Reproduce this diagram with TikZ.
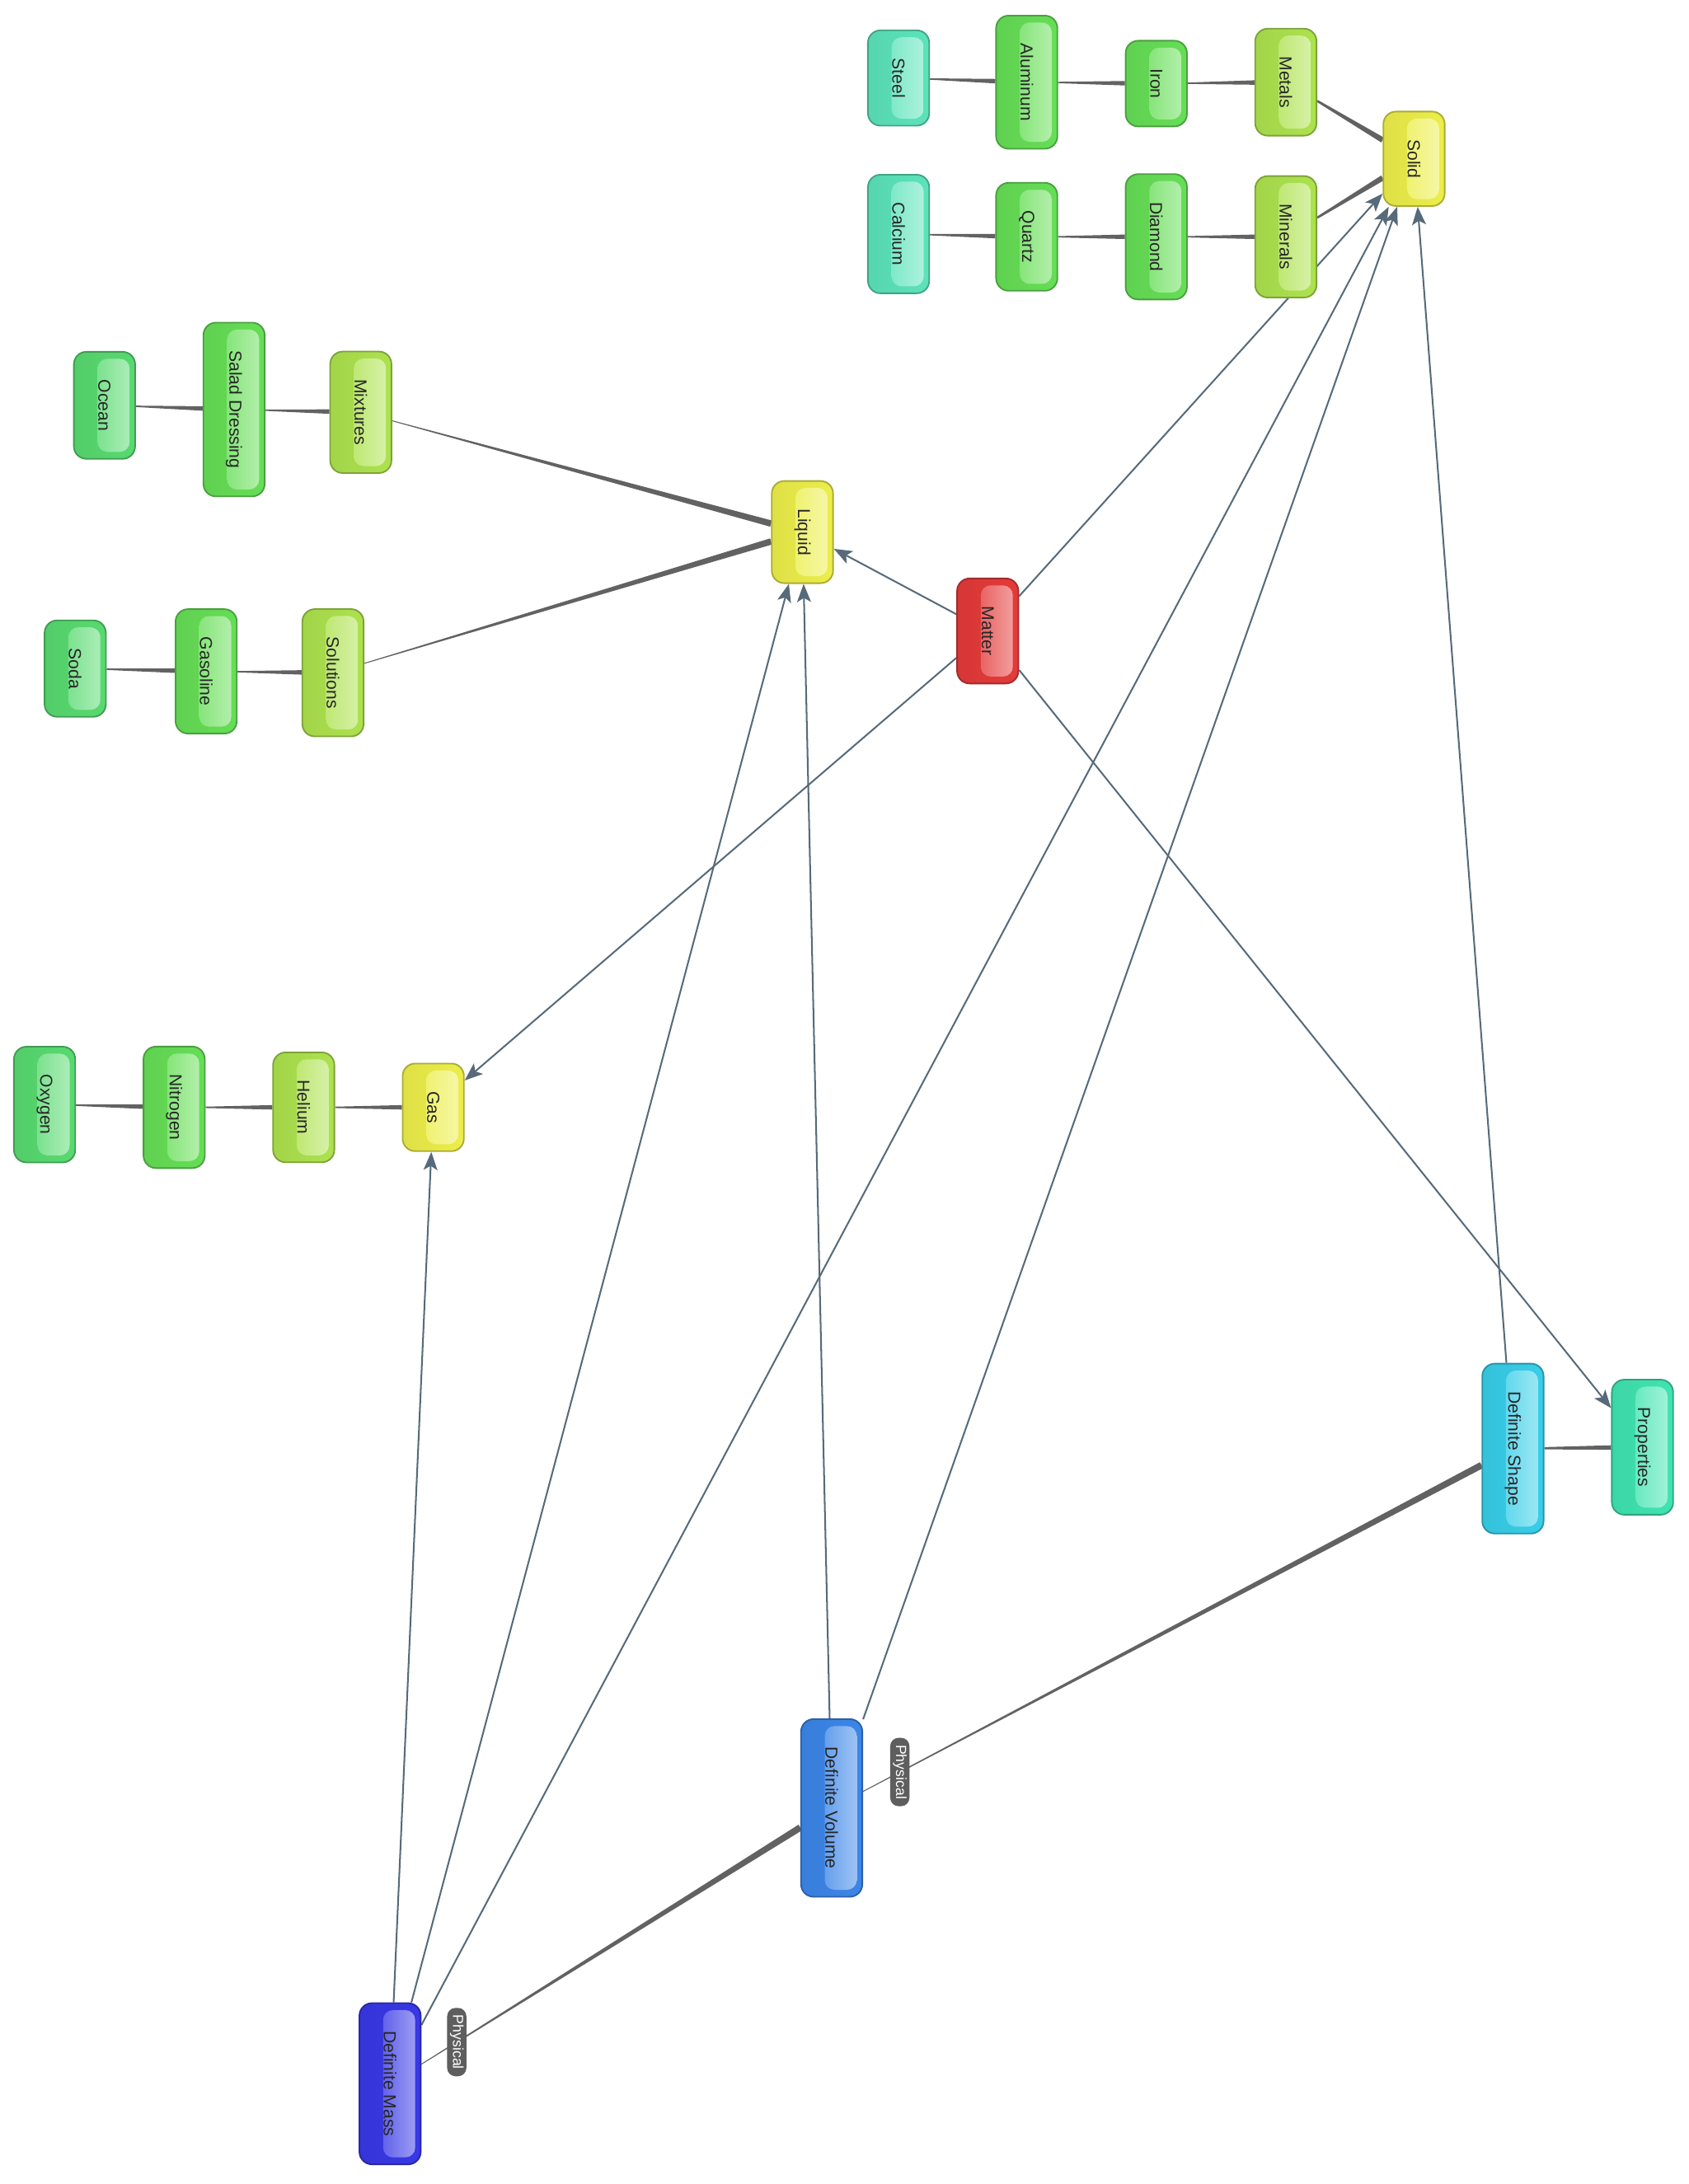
\documentclass[tikz,border=0pt]{standalone}
\usepackage{fontspec}
\setmainfont{Liberation Sans}
\usepackage{graphicx}
\usetikzlibrary{arrows.meta,calc,backgrounds}
\definecolor{ink}{HTML}{262626}
\definecolor{slate}{HTML}{566A7A}
\definecolor{linkgray}{HTML}{626262}
\definecolor{taggray}{HTML}{5E5E5E}
\definecolor{red}{HTML}{E43A3A}
\definecolor{yellow}{HTML}{ECEE4A}
\definecolor{lime}{HTML}{ADE24E}
\definecolor{green}{HTML}{66DE56}
\definecolor{leaf}{HTML}{58DA70}
\definecolor{teal}{HTML}{5CE3BA}
\definecolor{mint}{HTML}{40E4B0}
\definecolor{cyan}{HTML}{38CEE8}
\definecolor{blue}{HTML}{3C86E8}
\definecolor{indigo}{HTML}{3838E6}

\newcommand{\vt}[1]{\rotatebox{-90}{#1}}
% tapered branch: child, parent, half width at child, half width at parent
\newcommand{\branch}[4]{%
  \path (#1) -- (#2) coordinate[pos=0] (bA) coordinate[pos=1] (bB);
  \fill[linkgray] ($(bA)!#3!90:(bB)$) -- ($(bB)!#4!-90:(bA)$)
    -- ($(bB)!#4!90:(bA)$) -- ($(bA)!#3!-90:(bB)$) -- cycle;}

\begin{document}
\begin{tikzpicture}[
  x=1pt, y=-1pt,
  font=\fontsize{12.5}{15}\selectfont,
  box/.style={rounded corners=9pt, minimum width=44pt, inner xsep=0pt,
              inner ysep=20pt, draw=#1!72!black, line width=1.1pt,
              left color=#1!94!black, right color=#1, text=ink,
              path picture={\shade[left color=#1, right color=#1!45!white, rounded corners=7pt]
                ($(path picture bounding box.north)+(-5pt,-5pt)$) rectangle
                ($(path picture bounding box.south east)+(-4pt,5pt)$);}},
  tagbox/.style={fill=taggray, text=white, rounded corners=6pt,
                 inner xsep=2pt, inner ysep=5pt,
                 font=\fontsize{10.5}{12}\selectfont},
  conn/.style={-{Stealth[length=13pt,width=10pt,inset=3pt]}, line width=1.2pt, draw=slate}
]
\useasboundingbox (0,0) rectangle (1212,1568);

% solid branch
\node[box=teal]   (steel)    at (645,56)  {\vt{Steel}};
\node[box=green]  (aluminum) at (737,59)  {\vt{Aluminum}};
\node[box=green]  (iron)     at (830,60)  {\vt{Iron}};
\node[box=lime]   (metals)   at (923,59)  {\vt{Metals}};
\node[box=yellow] (solid)    at (1015,114) {\vt{Solid}};
\node[box=teal]   (calcium)  at (645,168) {\vt{Calcium}};
\node[box=green]  (quartz)   at (737,170) {\vt{Quartz}};
\node[box=green]  (diamond)  at (830,170) {\vt{Diamond}};
\node[box=lime]   (minerals) at (923,170) {\vt{Minerals}};

% liquid branch
\node[box=leaf]   (ocean)    at (75,291)  {\vt{Ocean}};
\node[box=green]  (salad)    at (168,294) {\vt{Salad Dressing}};
\node[box=lime]   (mixtures) at (259,296) {\vt{Mixtures}};
\node[box=yellow] (liquid)   at (576,382) {\vt{Liquid}};
\node[box=leaf]   (soda)     at (54,480)  {\vt{Soda}};
\node[box=green]  (gasoline) at (148,482) {\vt{Gasoline}};
\node[box=lime]   (solutions) at (239,483) {\vt{Solutions}};
\node[box=red]    (matter)   at (709,453) {\vt{Matter}};

% gas branch
\node[box=leaf]   (oxygen)   at (32,793)  {\vt{Oxygen}};
\node[box=green]  (nitrogen) at (125,795) {\vt{Nitrogen}};
\node[box=lime]   (helium)   at (218,795) {\vt{Helium}};
\node[box=yellow] (gas)      at (311,795) {\vt{Gas}};

% properties
\node[box=cyan]   (dshape)   at (1086,1040) {\vt{Definite Shape}};
\node[box=mint]   (props)    at (1179,1039) {\vt{Properties}};
\node[box=blue]   (dvolume)  at (597,1298) {\vt{Definite Volume}};
\node[box=indigo] (dmass)    at (280,1496) {\vt{Definite Mass}};

\node[tagbox] (phys1) at ($(dvolume)!0.1!(dshape)$) {\vt{Physical}};
\node[tagbox] (phys2) at ($(dmass)!0.151!(dvolume)$) {\vt{Physical}};

\begin{scope}[on background layer]
  \branch{steel}{aluminum}{0.5pt}{1.6pt}
  \branch{aluminum}{iron}{0.5pt}{1.6pt}
  \branch{iron}{metals}{0.5pt}{1.6pt}
  \branch{metals}{solid}{0.8pt}{2pt}
  \branch{calcium}{quartz}{0.5pt}{1.6pt}
  \branch{quartz}{diamond}{0.5pt}{1.6pt}
  \branch{diamond}{minerals}{0.5pt}{1.6pt}
  \branch{minerals}{solid}{0.8pt}{2pt}
  \branch{ocean}{salad}{0.5pt}{1.6pt}
  \branch{salad}{mixtures}{0.5pt}{1.6pt}
  \branch{mixtures}{liquid}{0.3pt}{2.3pt}
  \branch{soda}{gasoline}{0.5pt}{1.6pt}
  \branch{gasoline}{solutions}{0.5pt}{1.6pt}
  \branch{solutions}{liquid}{0.3pt}{2.3pt}
  \branch{oxygen}{nitrogen}{0.5pt}{1.6pt}
  \branch{nitrogen}{helium}{0.5pt}{1.6pt}
  \branch{helium}{gas}{0.5pt}{1.6pt}
  \branch{dshape}{props}{0.8pt}{1.6pt}
  \branch{dvolume}{dshape}{0.3pt}{2.4pt}
  \branch{dmass}{dvolume}{0.3pt}{2.4pt}

  \draw[conn] (matter) -- (liquid);
  \draw[conn] (matter) -- (gas);
  \draw[conn] (matter) -- (solid);
  \draw[conn] (matter) -- (props);
  \draw[conn] (dmass) -- (gas);
  \draw[conn] (dmass) -- (liquid);
  \draw[conn] (dmass) -- (solid);
  \draw[conn] (dvolume) -- (liquid);
  \draw[conn] (dvolume) -- (solid);
  \draw[conn] (dshape) -- (solid);
\end{scope}

\end{tikzpicture}
\end{document}
